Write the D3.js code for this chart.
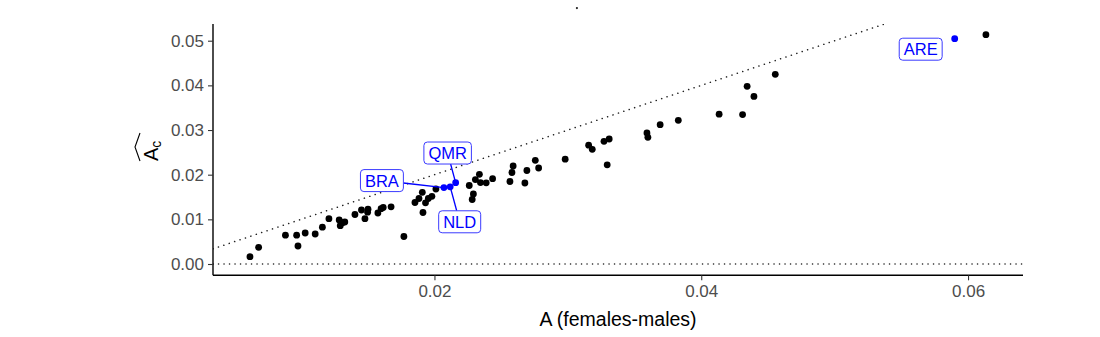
<!DOCTYPE html>
<html>
<head>
<meta charset="utf-8">
<script src="https://cdn.jsdelivr.net/npm/d3@7"></script>
<style>
    body { margin: 0; background: #fff; }
    svg { display: block; font-family: "Liberation Sans", Arial, sans-serif; }
</style>
</head>
<body>
<div id="chart"></div>
<script>
// A (females-males) vs estimated A_c, one point per country
const xValues = [
    0.00617, 0.00682, 0.00883, 0.00967, 0.00977, 0.01031, 0.01106, 0.01160, 0.01209, 0.01286,
    0.01294, 0.01328, 0.01310, 0.01404, 0.01453, 0.01479, 0.01502, 0.01499, 0.01576, 0.01600,
    0.01616, 0.01675, 0.01771, 0.01854, 0.01884, 0.01909, 0.01914, 0.01933, 0.01954, 0.01981,
    0.02011, 0.02071, 0.02118, 0.02159, 0.02261, 0.02292, 0.02283, 0.02307, 0.02337, 0.02345,
    0.02388, 0.02436, 0.02566, 0.02581, 0.02590, 0.02678, 0.02693, 0.02756, 0.02781, 0.02980,
    0.03156, 0.03183, 0.03271, 0.03310, 0.03295, 0.03593, 0.03600, 0.03692, 0.03828, 0.04134,
    0.04310, 0.04344, 0.04395, 0.04555, 0.05900, 0.06134
];
const yValues = [
    0.00163, 0.00374, 0.00645, 0.00645, 0.00403, 0.00694, 0.00672, 0.00824, 0.01014, 0.00985,
    0.00858, 0.00940, 0.00925, 0.01108, 0.01209, 0.01014, 0.01227, 0.01160, 0.01142, 0.01238,
    0.01265, 0.01281, 0.00616, 0.01377, 0.01467, 0.01605, 0.01153, 0.01370, 0.01467, 0.01516,
    0.01679, 0.01711, 0.01729, 0.01820, 0.01758, 0.01567, 0.01444, 0.01890, 0.02009, 0.01823,
    0.01818, 0.01910, 0.01847, 0.02049, 0.02194, 0.01814, 0.02094, 0.02322, 0.02150, 0.02347,
    0.02660, 0.02568, 0.02747, 0.02799, 0.02221, 0.02933, 0.02837, 0.03119, 0.03218, 0.03354,
    0.03345, 0.03979, 0.03753, 0.04248, 0.05045, 0.05134
];
// country code for the highlighted points (index into the arrays above)
const highlighted = [
    { code: "BRA", index: 31 },
    { code: "NLD", index: 32 },
    { code: "QMR", index: 33 },
    { code: "ARE", index: 64 }
];
const xTicks = [0.02, 0.04, 0.06];
const yTicks = [0.00, 0.01, 0.02, 0.03, 0.04, 0.05];
// stray mark above the panel
const strayPoint = [{ x: 0.03068, y: 0.0573 }];

// label box centre, offset from its point (px)
const labelOffsets = {
    BRA: { dx: -62, dy: -7 },
    NLD: { dx: 9.5, dy: 35 },
    QMR: { dx: -8, dy: -29.7 },
    ARE: { dx: -34, dy: 10.5 }
};

const WIDTH = 1100,
    HEIGHT = 337;

const margins = {
    top: 24,
    left: 213,
    bottom: 61.7,
    right: 77
};

const width = WIDTH - margins.left - margins.right,
    height = HEIGHT - margins.top - margins.bottom;

const data = xValues.map((x, i) => ({ x: x, y: yValues[i], code: null }));
highlighted.forEach(({ code, index }) => { data[index].code = code; });

const svg = d3.select("#chart")
    .append("svg")
    .attr("width", WIDTH)
    .attr("height", HEIGHT);

const xScale = d3.scaleLinear()
    .domain([0.0034, 0.06412])
    .range([0, width]);

const yScale = d3.scaleLinear()
    .domain([-0.00253, 0.05374])
    .range([height, 0]);

const panel = svg.append("g")
    .attr("transform", `translate(${margins.left}, ${margins.top})`);

panel.append("clipPath")
    .attr("id", "clip")
    .append("rect")
    .attr("width", width)
    .attr("height", height);

const refLines = panel.append("g").attr("clip-path", "url(#clip)");

// y = 0
refLines.append("line")
    .attr("x1", 0)
    .attr("x2", width)
    .attr("y1", yScale(0))
    .attr("y2", yScale(0))
    .attr("stroke", "#222")
    .attr("stroke-width", 1.5)
    .attr("stroke-linecap", "round")
    .attr("stroke-dasharray", "0.1,5.4");

// y = x
const dom = xScale.domain();
refLines.append("line")
    .attr("x1", xScale(dom[0]))
    .attr("y1", yScale(dom[0]))
    .attr("x2", xScale(dom[1]))
    .attr("y2", yScale(dom[1]))
    .attr("stroke", "#222")
    .attr("stroke-width", 1.5)
    .attr("stroke-linecap", "round")
    .attr("stroke-dasharray", "0.1,5.6");

// axes
const axisX = d3.axisBottom(xScale)
    .tickValues(xTicks)
    .tickFormat(d3.format(".2f"))
    .tickSize(5)
    .tickPadding(5);

const gx = panel.append("g")
    .attr("transform", `translate(0, ${height})`)
    .call(axisX);

const axisY = d3.axisLeft(yScale)
    .tickValues(yTicks)
    .tickFormat(d3.format(".2f"))
    .tickSize(5)
    .tickPadding(4);

const gy = panel.append("g").call(axisY);

[gx, gy].forEach(g => {
    g.select(".domain")
        .attr("stroke", "#000")
        .attr("stroke-width", 1.4);
    g.selectAll(".tick line")
        .attr("stroke", "#333")
        .attr("stroke-width", 1.1);
    g.selectAll(".tick text")
        .attr("font-size", 17)
        .attr("fill", "#4d4d4d")
        .attr("font-family", "Liberation Sans, Arial, sans-serif");
});
gy.select(".domain").attr("d", `M0,0V${height}`);
gx.select(".domain").attr("d", `M0,0H${width}`);

// points
panel.append("g")
    .selectAll("circle")
    .data(data)
    .join("circle")
    .attr("cx", d => xScale(d.x))
    .attr("cy", d => yScale(d.y))
    .attr("r", 3.4)
    .attr("fill", d => d.code ? "#0000ff" : "#000");

panel.append("g")
    .selectAll("circle")
    .data(strayPoint)
    .join("circle")
    .attr("cx", d => xScale(d.x))
    .attr("cy", d => yScale(d.y))
    .attr("r", 1.1)
    .attr("fill", "#222");

// labels (repel-style boxes)
const labelled = data.filter(d => d.code);
const labels = panel.append("g");

labelled.forEach(d => {
    const px = xScale(d.x),
        py = yScale(d.y);
    const off = labelOffsets[d.code];
    const cx = px + off.dx,
        cy = py + off.dy;

    const g = labels.append("g");
    const rect = g.append("rect");
    const txt = g.append("text")
        .attr("x", cx)
        .attr("y", cy)
        .attr("dy", "0.36em")
        .attr("text-anchor", "middle")
        .attr("font-size", 16.5)
        .attr("fill", "#0000ff")
        .text(d.code);

    const tw = txt.node().getComputedTextLength();
    const bw = tw + 9,
        bh = 22;
    rect.attr("x", cx - bw / 2)
        .attr("y", cy - bh / 2)
        .attr("width", bw)
        .attr("height", bh)
        .attr("rx", 3.5)
        .attr("fill", "#fff")
        .attr("stroke", "#3b3bff")
        .attr("stroke-width", 1);

    // segment from point to the box edge
    const vx = px - cx,
        vy = py - cy;
    const s = Math.min(
        vx !== 0 ? (bw / 2) / Math.abs(vx) : Infinity,
        vy !== 0 ? (bh / 2) / Math.abs(vy) : Infinity
    );
    const ex = cx + vx * s,
        ey = cy + vy * s;
    if (s < 1 && Math.hypot(ex - px, ey - py) > 15) {
        g.insert("line", "rect")
            .attr("x1", px)
            .attr("y1", py)
            .attr("x2", ex)
            .attr("y2", ey)
            .attr("stroke", "#0000ff")
            .attr("stroke-width", 1.3);
    }
});

// axis titles
svg.append("text")
    .attr("x", margins.left + width / 2)
    .attr("y", 326)
    .attr("text-anchor", "middle")
    .attr("font-size", 19.5)
    .attr("fill", "#000")
    .text("A (females-males)");

const yTitle = svg.append("g")
    .attr("transform", `translate(158, 161) rotate(-90)`);

yTitle.append("text")
    .attr("x", 0)
    .attr("y", 0)
    .attr("font-size", 20)
    .attr("fill", "#000")
    .call(t => t.append("tspan").text("A"))
    .call(t => t.append("tspan")
        .attr("font-size", 14)
        .attr("dy", 3)
        .attr("fill", "#000")
        .text("c"));

yTitle.append("path")
    .attr("d", "M0,-18L14,-23L28,-18")
    .attr("fill", "none")
    .attr("stroke", "#000")
    .attr("stroke-width", 1.1);
</script>
</body>
</html>
